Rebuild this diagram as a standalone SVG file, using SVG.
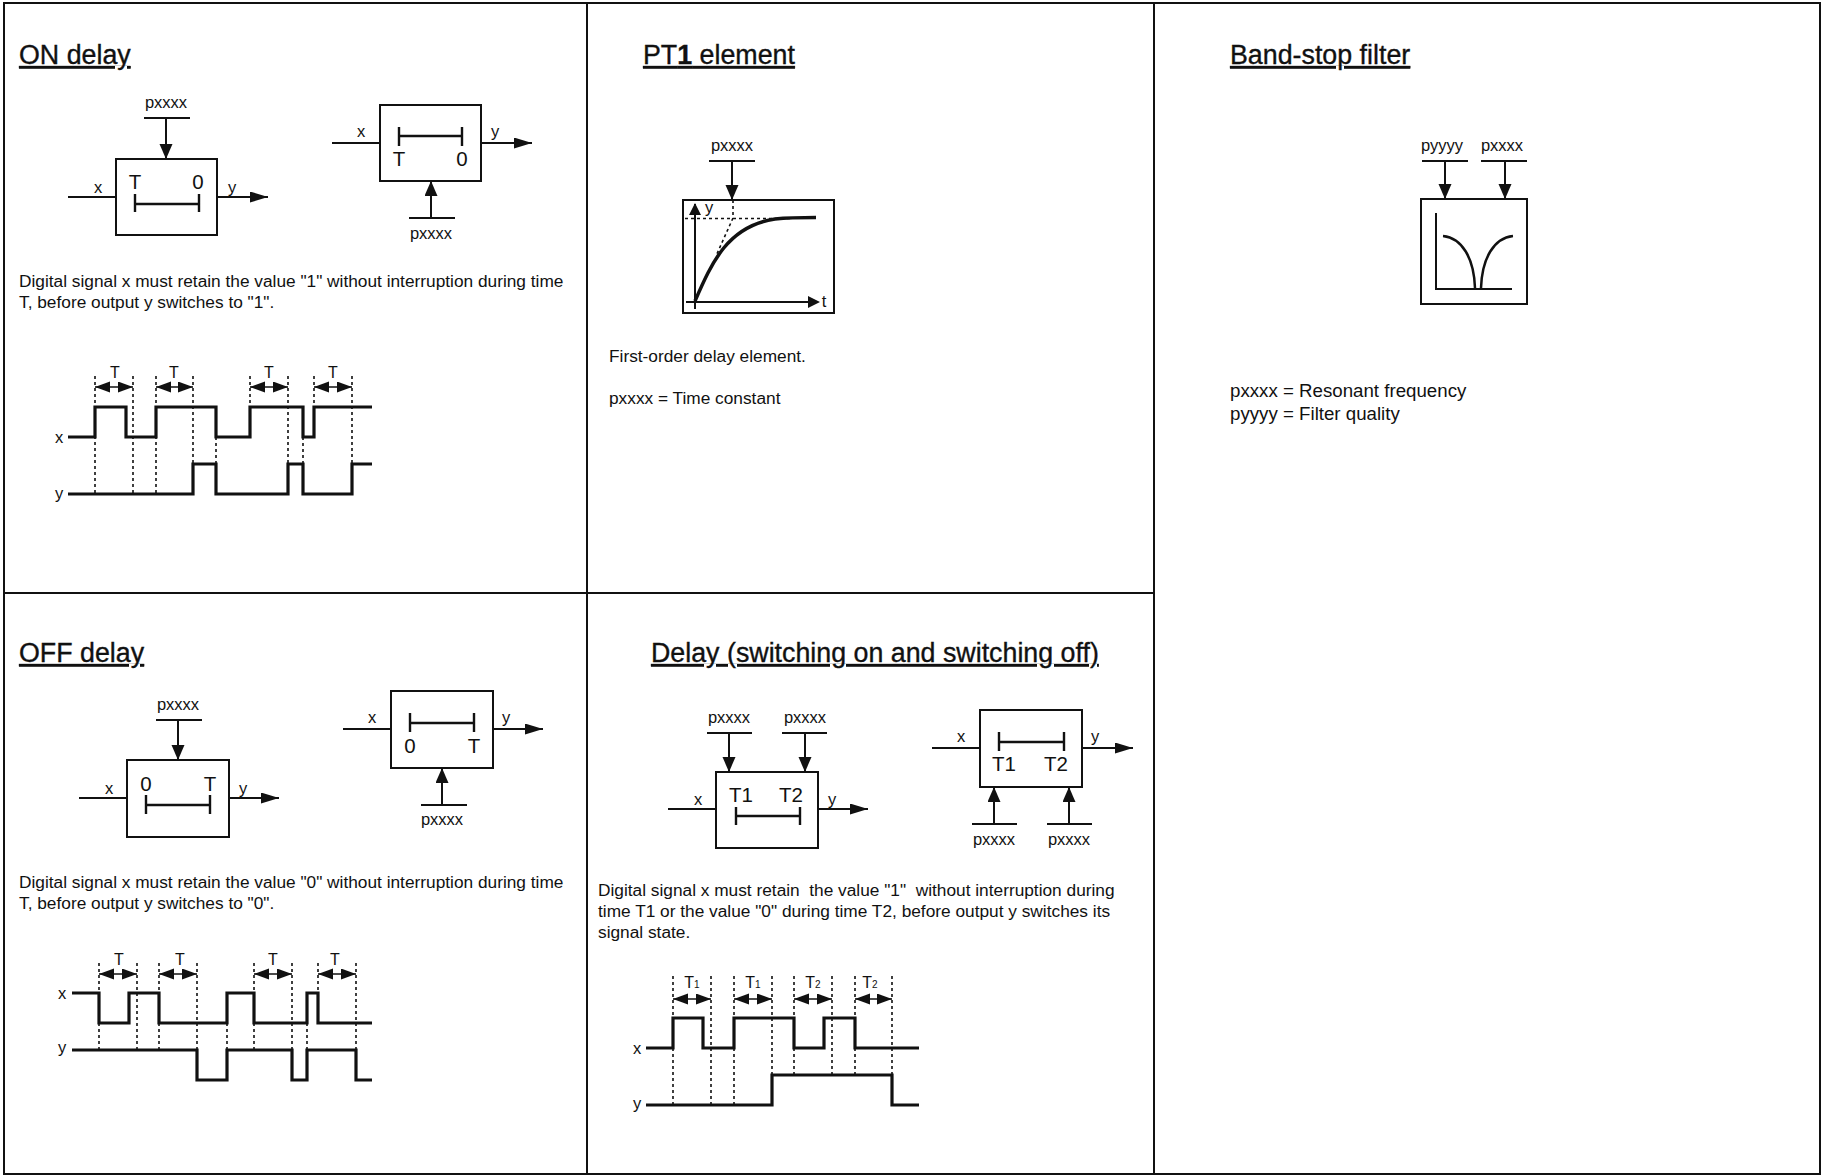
<svg xmlns="http://www.w3.org/2000/svg" width="1821" height="1175" viewBox="0 0 1821 1175">
<style>
text{font-family:"Liberation Sans",Arial,sans-serif;fill:#111;white-space:pre}
.h{font-size:26.8px;text-decoration:underline;stroke:#111;stroke-width:.35}
.d{font-size:17.3px}
.b{font-size:18.7px}
.p{font-size:16.5px;text-anchor:middle}
.l{font-size:16.5px;text-anchor:middle}
.k{font-size:20.5px;text-anchor:middle}
.t{font-size:16px;text-anchor:middle}
.s{font-size:10px}
.box{fill:#fff;stroke:#111;stroke-width:2}
.in{fill:none;stroke:#111;stroke-width:2}
.bar{fill:none;stroke:#111;stroke-width:2.4}
.w{fill:none;stroke:#111;stroke-width:3.2;stroke-linejoin:miter}
.dash{fill:none;stroke:#111;stroke-width:1.6;stroke-dasharray:3 3}
.dim{fill:none;stroke:#111;stroke-width:1.5;marker-start:url(#dh);marker-end:url(#dh)}
.a{marker-end:url(#ah)}
.o{marker-end:url(#oh)}
.frame{fill:none;stroke:#111;stroke-width:2}
</style>
<defs>
<marker id="ah" markerUnits="userSpaceOnUse" markerWidth="15" markerHeight="14" refX="15" refY="6.500" orient="auto"><path d="M0 0L15 6.500L0 13Z" fill="#111"/></marker>
<marker id="oh" markerUnits="userSpaceOnUse" markerWidth="18" markerHeight="12" refX="18" refY="5.500" orient="auto"><path d="M0 0L18 5.500L0 11Z" fill="#111"/></marker>
<marker id="dh" markerUnits="userSpaceOnUse" markerWidth="15" markerHeight="12" refX="15" refY="5.500" orient="auto-start-reverse"><path d="M0 0L15 5.500L0 11Z" fill="#111"/></marker>
</defs>
<rect width="1821" height="1175" fill="#fff"/>
<g id="frame" class="frame">
<path d="M4 3H1820V1174H4ZM587 3V1174M1154 3V1174M4 593H1154"/>
</g>

<g id="on-delay-left">
<rect class="box" x="116" y="159" width="101" height="76"/>
<path class="bar" d="M135 194V212M135 204H199M199 194V212"/>
<text class="k" x="135" y="189">T</text><text class="k" x="198" y="189">0</text>
<text class="p" x="166" y="108">pxxxx</text>
<text class="l" x="98" y="193">x</text><text class="l" x="232" y="193">y</text>
</g>
<g id="on-delay-right">
<rect class="box" x="380" y="105" width="101" height="76"/>
<path class="bar" d="M399 127V146M399 136H462M462 127V146"/>
<text class="k" x="399" y="166">T</text><text class="k" x="462" y="166">0</text>
<text class="p" x="431" y="239">pxxxx</text>
<text class="l" x="361" y="137">x</text><text class="l" x="495" y="137">y</text>
</g>
<g id="off-delay-left" transform="translate(0 1)">
<rect class="box" x="127" y="759" width="102" height="77"/>
<path class="bar" d="M146 794V813M146 804H210M210 794V813"/>
<text class="k" x="146" y="790">0</text><text class="k" x="210" y="790">T</text>
<text class="p" x="178" y="709">pxxxx</text>
<text class="l" x="109" y="793">x</text><text class="l" x="243" y="793">y</text>
</g>
<g id="off-delay-right" transform="translate(0 1)">
<rect class="box" x="391" y="690" width="102" height="77"/>
<path class="bar" d="M410 712V731M410 722H474M474 712V731"/>
<text class="k" x="410" y="752">0</text><text class="k" x="474" y="752">T</text>
<text class="p" x="442" y="824">pxxxx</text>
<text class="l" x="372" y="722">x</text><text class="l" x="506" y="722">y</text>
</g>
<g id="delay-left" transform="translate(0 1)">
<rect class="box" x="716" y="771" width="102" height="76"/>
<path class="bar" d="M736 806V824M736 815H800M800 806V824"/>
<text class="k" x="741" y="801">T1</text><text class="k" x="791" y="801">T2</text>
<text class="p" x="729" y="722">pxxxx</text><text class="p" x="805" y="722">pxxxx</text>
<text class="l" x="698" y="804">x</text><text class="l" x="832" y="804">y</text>
</g>
<g id="delay-right" transform="translate(0 1)">
<rect class="box" x="980" y="709" width="102" height="77"/>
<path class="bar" d="M999 731V750M999 741H1064M1064 731V750"/>
<text class="k" x="1004" y="770">T1</text><text class="k" x="1056" y="770">T2</text>
<text class="p" x="994" y="844">pxxxx</text><text class="p" x="1069" y="844">pxxxx</text>
<text class="l" x="961" y="741">x</text><text class="l" x="1095" y="741">y</text>
</g>
<g id="pt1-block">
<rect class="box" x="683" y="200" width="151" height="113"/>
<path class="dash" d="M685 218.500H790M733 200V218L716 256"/>
<path class="in" d="M695 309V204M686 302H818" stroke-width="1.800"/>
<path d="M695 203L701 215H689ZM820 302L808 296V308Z" fill="#111"/>
<path d="M695 301C712 262 728 226 775 219C790 217.500 800 217.500 816 217.500" fill="none" stroke="#111" stroke-width="3.500"/>
<text class="l" x="709" y="213">y</text><text class="l" x="824" y="307">t</text>
<text class="p" x="732" y="151">pxxxx</text>
</g>
<g id="band-stop-block">
<rect class="box" x="1421" y="199" width="106" height="105"/>
<path class="in" d="M1436 213V289H1512" stroke-width="1.500"/>
<path d="M1443 236C1462 238 1474 258 1475 288M1513 236C1494 238 1482 258 1481 288" fill="none" stroke="#111" stroke-width="2.500"/>
<text class="p" x="1442" y="151">pyyyy</text><text class="p" x="1502" y="151">pxxxx</text>
</g>

<g id="connectors">
<g>
<path class="in" d="M144 118H190M409 218H455M709 161H755M1422 161H1468M1481 161H1527"/>
<path class="in" d="M68 197H116M332 143H380"/>
<path class="in a" d="M166 118V159"/><path class="in a" d="M431 218V181"/>
<path class="in a" d="M732 161V200"/><path class="in a" d="M1445 161V199"/><path class="in a" d="M1505 161V199"/>
<path class="in o" d="M217 197H268"/><path class="in o" d="M481 143H532"/>
</g>
<g transform="translate(0 1)">
<path class="in" d="M156 719H202M421 804H467M707 732H752M782 732H827M972 823H1017M1047 823H1092"/>
<path class="in" d="M79 797H127M343 728H391M668 808H716M932 747H980"/>
<path class="in a" d="M178 719V759"/><path class="in a" d="M442 804V767"/>
<path class="in a" d="M729 732V771"/><path class="in a" d="M805 732V771"/>
<path class="in a" d="M994 823V786"/><path class="in a" d="M1069 823V786"/>
<path class="in o" d="M229 797H279"/><path class="in o" d="M493 728H543"/><path class="in o" d="M818 808H868"/><path class="in o" d="M1082 747H1133"/>
</g>
</g>

<g id="timing-on">
<path class="dash" d="M95 376V494M133 376V494M156 376V494M193 376V464M216 437V464M250 376V407M288 376V464M303 437V464M314 376V407M352 376V464"/>
<path class="dim" d="M95 387H133"/><path class="dim" d="M156 387H193"/><path class="dim" d="M250 387H288"/><path class="dim" d="M314 387H352"/>
<path class="w" d="M68 437H95V407H126V437H156V407H216V437H250V407H303V437H314V407H372"/>
<path class="w" d="M68 494H193V464H216V494H288V464H303V494H352V464H372"/>
<text class="t" x="115" y="378">T</text><text class="t" x="174" y="378">T</text><text class="t" x="269" y="378">T</text><text class="t" x="333" y="378">T</text>
<text class="l" x="59" y="443">x</text><text class="l" x="59" y="499">y</text>
</g>
<g id="timing-off" transform="translate(0 1)">
<path class="dash" d="M99 962V1049M137 962V1049M159 962V1049M197 962V1049M227 1022V1049M254 962V1049M292 962V1049M307 1022V1049M318 962V992M356 962V1049"/>
<path class="dim" d="M99 973H137"/><path class="dim" d="M159 973H197"/><path class="dim" d="M254 973H292"/><path class="dim" d="M318 973H356"/>
<path class="w" d="M72 992H99V1022H129V992H159V1022H227V992H254V1022H307V992H318V1022H372"/>
<path class="w" d="M72 1049H197V1079H227V1049H292V1079H307V1049H356V1079H372"/>
<text class="t" x="119" y="964">T</text><text class="t" x="180" y="964">T</text><text class="t" x="273" y="964">T</text><text class="t" x="335" y="964">T</text>
<text class="l" x="62" y="998">x</text><text class="l" x="62" y="1052">y</text>
</g>
<g id="timing-delay" transform="translate(0 1)">
<path class="dash" d="M673 975V1104M711 975V1104M734 975V1104M772 975V1074M794 975V1074M832 975V1074M855 975V1074M892 975V1074"/>
<path class="dim" d="M673 998H711"/><path class="dim" d="M734 998H772"/><path class="dim" d="M794 998H832"/><path class="dim" d="M855 998H892"/>
<path class="w" d="M646 1047H673V1017H703V1047H734V1017H794V1047H824V1017H855V1047H919"/>
<path class="w" d="M646 1104H772V1074H892V1104H919"/>
<text class="t" x="692" y="987">T<tspan class="s">1</tspan></text><text class="t" x="753" y="987">T<tspan class="s">1</tspan></text><text class="t" x="813" y="987">T<tspan class="s">2</tspan></text><text class="t" x="870" y="987">T<tspan class="s">2</tspan></text>
<text class="l" x="637" y="1053">x</text><text class="l" x="637" y="1108">y</text>
</g>

<g id="titles">
<text class="h" x="19" y="64">ON delay</text>
<text class="h" x="643" y="64">PT<tspan font-weight="bold">1</tspan> element</text>
<text class="h" x="1230" y="64">Band-stop filter</text>
<text class="h" x="19" y="662">OFF delay</text>
<text class="h" x="651" y="662">Delay (switching on and switching off)</text>
</g>
<g id="descriptions">
<text class="d" x="19" y="287">Digital signal x must retain the value "1" without interruption during time</text>
<text class="d" x="19" y="308">T, before output y switches to "1".</text>
<text class="d" x="609" y="362">First-order delay element.</text>
<text class="d" x="609" y="404">pxxxx = Time constant</text>
<text class="b" x="1230" y="397">pxxxx = Resonant frequency</text>
<text class="b" x="1230" y="420">pyyyy = Filter quality</text>
<text class="d" x="19" y="888">Digital signal x must retain the value "0" without interruption during time</text>
<text class="d" x="19" y="909">T, before output y switches to "0".</text>
<text class="d" x="598" y="896">Digital signal x must retain  the value "1"  without interruption during</text>
<text class="d" x="598" y="917">time T1 or the value "0" during time T2, before output y switches its</text>
<text class="d" x="598" y="938">signal state.</text>
</g>
</svg>
